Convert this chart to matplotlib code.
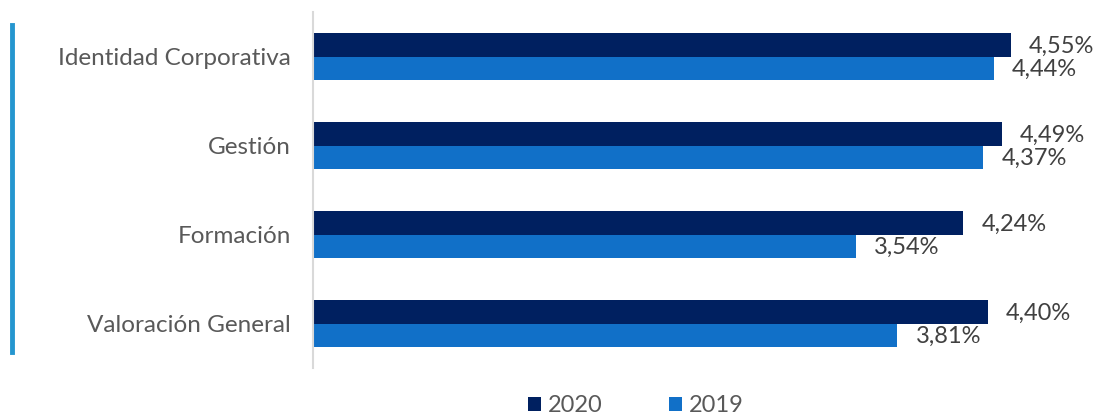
import matplotlib
matplotlib.use("Agg")
import matplotlib.pyplot as plt
import numpy as np
from matplotlib.lines import Line2D

plt.rcParams["font.family"] = ["Lato", "DejaVu Sans"]

categories = ["Identidad Corporativa", "Gestión", "Formación", "Valoración General"]
values_2020 = [4.55, 4.49, 4.24, 4.40]
values_2019 = [4.44, 4.37, 3.54, 3.81]
series_names = ["2020", "2019"]

COLOR_2020 = "#002060"
COLOR_2019 = "#1170C8"
TEXT_COLOR = "#595959"

W, H = 1095, 417
fig = plt.figure(figsize=(W / 100, H / 100), dpi=100)
# ejes: izquierda 313 px, derecha 1080 px, arriba 12 px, abajo 368 px
ax = fig.add_axes([313 / W, 1 - 368 / H, (1080 - 313) / W, (368 - 12) / H])

y = np.arange(len(categories))
h = 0.26

bars_a = ax.barh(y - h / 2, values_2020, height=h, color=COLOR_2020, label=series_names[0])
bars_b = ax.barh(y + h / 2, values_2019, height=h, color=COLOR_2019, label=series_names[1])

for bars, vals in ((bars_a, values_2020), (bars_b, values_2019)):
    for bar, v in zip(bars, vals):
        ax.annotate(f"{v:.2f}%".replace(".", ","),
                    (bar.get_width(), bar.get_y() + bar.get_height() / 2),
                    xytext=(13, -1), textcoords="offset points",
                    ha="left", va="center", fontsize=17, color="#404040")

ax.set_xlim(0, 5)
ax.set_ylim(len(categories) - 0.5, -0.5)
ax.set_yticks(y)
ax.set_yticklabels(categories, fontsize=17.5, color=TEXT_COLOR)
ax.tick_params(axis="y", length=0, pad=16)
ax.set_xticks([])
for s in ("top", "right", "bottom"):
    ax.spines[s].set_visible(False)
ax.spines["left"].set_color("#D9D9D9")
ax.spines["left"].set_linewidth(1.5)

# barra vertical decorativa a la izquierda
fig.add_artist(Line2D([11.5 / W, 11.5 / W], [1 - 25 / H, 1 - 352 / H],
                      color="#2596CF", linewidth=3.5))

leg = fig.legend(loc="center", bbox_to_anchor=(636 / W, 1 - 406 / H), ncol=2,
                 frameon=False, fontsize=17, handlelength=0.55, handleheight=0.55,
                 handletextpad=0.3, columnspacing=2.8)
for t in leg.get_texts():
    t.set_color(TEXT_COLOR)

fig.savefig("out.png", dpi=100)
